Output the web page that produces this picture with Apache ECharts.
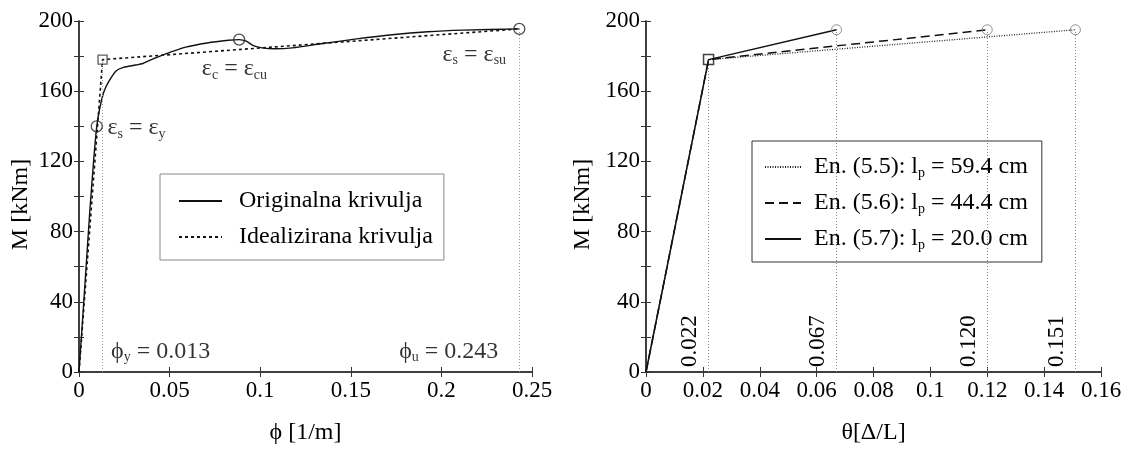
<!DOCTYPE html>
<html>
<head>
<meta charset="utf-8">
<script src="https://cdn.jsdelivr.net/npm/echarts@6/dist/echarts.min.js"></script>
<style>
html,body{margin:0;padding:0;background:#fff;}
#c{width:1130px;height:450px;}
</style>
</head>
<body>
<div id="c"></div>
<script>
// ---------- Left chart data: moment-curvature ----------
const origPhi = [0, 0.0029, 0.0059, 0.0082, 0.0098, 0.0114, 0.0137, 0.0167, 0.0206, 0.0245, 0.0314, 0.0353, 0.0393, 0.0471, 0.0589, 0.0707, 0.0825, 0.0884, 0.0923, 0.0962, 0.1011, 0.108, 0.1178, 0.1335, 0.1532, 0.1728, 0.1925, 0.2121, 0.243];
const origM   = [0, 44, 90.7, 122, 140, 150, 159.6, 166, 171.7, 173.6, 174.9, 175.8, 177.7, 181, 185.1, 187.5, 189, 189.4, 188.5, 186, 184.7, 184.2, 184.7, 187, 189.8, 192.2, 193.9, 194.8, 195.5];
const idealPhi = [0, 0.013, 0.243];
const idealM   = [0, 178, 195.5];
const circlePhi = [0.0098, 0.0884, 0.243];
const circleM   = [140, 189.4, 195.5];
const phiY = 0.013, phiU = 0.243;
const leftXTicks = {min: 0, max: 0.25, interval: 0.05};
const leftYTicks = {min: 0, max: 200, interval: 20, labelEvery: 40};

// ---------- Right chart data: moment-rotation ----------
const thetaY = 0.022, MY = 178, MU = 195;
const thetaU = [0.151, 0.120, 0.067];
const eqNames = ['En. (5.5)', 'En. (5.6)', 'En. (5.7)'];
const lpValues = ['59.4', '44.4', '20.0'];
const thetaLabels = ['0.022', '0.067', '0.120', '0.151'];
const thetaMarks = [0.022, 0.067, 0.120, 0.151];
const thetaMarkTop = [178, 195, 195, 195];
const rightXTicks = {min: 0, max: 0.16, interval: 0.02};

const FONT = 'Liberation Serif';
const TICK = 23;

function zip(a, b) { return a.map((v, i) => [v, b[i]]); }

const seriesNamesRight = eqNames.map((e, i) => e + ': lp = ' + lpValues[i] + ' cm');

const axisLineStyle = {show: true, lineStyle: {color: '#333', width: 1.5}};
function xAxis(gridIndex, t, pos, name) {
  return {
    type: 'value', gridIndex, position: pos, min: t.min, max: t.max, interval: t.interval,
    axisLine: axisLineStyle,
    axisTick: {show: true, inside: true, length: 5, lineStyle: {color: '#333', width: 1}},
    axisLabel: {show: pos === 'bottom', color: '#000', fontFamily: FONT, fontSize: TICK, margin: 7},
    splitLine: {show: false},
    name: pos === 'bottom' ? name : '', nameLocation: 'middle', nameGap: 49,
    nameTextStyle: {color: '#000', fontFamily: FONT, fontSize: 24}
  };
}
function yAxis(gridIndex, pos, name, gap) {
  return {
    type: 'value', gridIndex, position: pos, min: 0, max: 200, interval: leftYTicks.interval,
    axisLine: axisLineStyle,
    axisTick: {show: true, inside: true, length: 5, lineStyle: {color: '#333', width: 1}},
    axisLabel: {show: pos === 'left', color: '#000', fontFamily: FONT, fontSize: TICK, margin: 6,
      formatter: v => (v % leftYTicks.labelEvery === 0 ? String(v) : '')},
    splitLine: {show: false},
    name: pos === 'left' ? name : '', nameLocation: 'middle', nameGap: gap, nameRotate: 90,
    nameTextStyle: {color: '#000', fontFamily: FONT, fontSize: 24, padding: [0, 16, 0, 0]}
  };
}

const richBase = {
  e: {fontFamily: FONT, fontSize: 24, lineHeight: 26, color: '#000'},
  s: {fontFamily: FONT, fontSize: 14, lineHeight: 14, verticalAlign: 'bottom', color: '#000'}
};

const annLeft = [
  {value: [0.0157, 139], pos: 'right', text: '{e|ε}{s|s}{e| = ε}{s|y}'},
  {value: [0.0678, 172.6], pos: 'right', text: '{e|ε}{s|c}{e| = ε}{s|cu}'},
  {value: [0.2357, 181], pos: 'left', text: '{e|ε}{s|s}{e| = ε}{s|su}'},
  {value: [0.0177, 11.7], pos: 'right', text: '{e|ϕ}{s|y}{e| = ' + phiY.toFixed(3) + '}'},
  {value: [0.1767, 11.7], pos: 'right', text: '{e|ϕ}{s|u}{e| = ' + phiU.toFixed(3) + '}'}
];

const hiddenSymbol = {color: 'rgba(0,0,0,0)', borderColor: 'rgba(0,0,0,0)', borderWidth: 0, opacity: 0};

const option = {
  animation: false,
  backgroundColor: '#fff',
  grid: [
    {left: 79, top: 21, width: 453, height: 358},
    {left: 646, top: 21, width: 455, height: 358}
  ],
  xAxis: [
    xAxis(0, leftXTicks, 'bottom', 'ϕ [1/m]'),
    xAxis(0, leftXTicks, 'top', ''),
    xAxis(1, rightXTicks, 'bottom', 'θ[Δ/L]'),
    xAxis(1, rightXTicks, 'top', '')
  ],
  yAxis: [
    yAxis(0, 'left', 'M [kNm]', 46),
    yAxis(0, 'right', '', 0),
    yAxis(1, 'left', 'M [kNm]', 51),
    yAxis(1, 'right', '', 0)
  ],
  legend: [
    {
      left: 160, top: 174, orient: 'vertical',
      data: ['Originalna krivulja', 'Idealizirana krivulja'],
      itemWidth: 43, itemHeight: 14, itemGap: 10,
      padding: [14, 11, 10, 18],
      borderColor: '#888', borderWidth: 1, backgroundColor: '#fff',
      itemStyle: hiddenSymbol,
      textStyle: {fontFamily: FONT, fontSize: 24, lineHeight: 26, color: '#000', padding: [0, 0, 0, 12]}
    },
    {
      left: 752, top: 141, orient: 'vertical',
      data: seriesNamesRight,
      itemWidth: 36, itemHeight: 14, itemGap: 11,
      padding: [14, 14, 10, 12],
      borderColor: '#333', borderWidth: 1, backgroundColor: '#fff',
      itemStyle: hiddenSymbol,
      formatter: name => {
        const i = seriesNamesRight.indexOf(name);
        return '{e|' + eqNames[i] + ': l}{s|p}{e| = ' + lpValues[i] + ' cm}';
      },
      textStyle: {fontFamily: FONT, fontSize: 24, color: '#000', padding: [0, 0, 0, 8], rich: richBase}
    }
  ],
  series: [
    // ----- left chart -----
    {
      name: 'Idealizirana krivulja', type: 'line', xAxisIndex: 0, yAxisIndex: 0,
      data: zip(idealPhi, idealM), symbol: 'none',
      lineStyle: {color: '#111', width: 1.6, type: [3, 3]}, itemStyle: {color: '#111'},
      markLine: {
        silent: true, symbol: ['none', 'none'], label: {show: false},
        lineStyle: {color: '#999', width: 1, type: [1, 2]},
        data: [
          [{coord: [phiY, 0]}, {coord: [phiY, idealM[1]]}],
          [{coord: [phiU, 0]}, {coord: [phiU, idealM[2]]}]
        ]
      },
      z: 3
    },
    {
      name: 'Originalna krivulja', type: 'line', xAxisIndex: 0, yAxisIndex: 0,
      data: zip(origPhi, origM), symbol: 'none', smooth: 0.25,
      lineStyle: {color: '#111', width: 1.4, type: 'solid'}, itemStyle: {color: '#111'}, z: 4
    },
    {
      type: 'scatter', xAxisIndex: 0, yAxisIndex: 0, data: zip(circlePhi, circleM),
      symbol: 'circle', symbolSize: 11,
      itemStyle: {color: 'rgba(0,0,0,0)', borderColor: '#222', borderWidth: 1.3}, z: 5
    },
    {
      type: 'scatter', xAxisIndex: 0, yAxisIndex: 0, data: [[idealPhi[1], idealM[1]]],
      symbol: 'rect', symbolSize: 9,
      itemStyle: {color: 'rgba(0,0,0,0)', borderColor: '#333', borderWidth: 1.3}, z: 5
    },
    {
      type: 'scatter', xAxisIndex: 0, yAxisIndex: 0, symbolSize: 0, silent: true,
      data: annLeft.map(a => ({
        value: a.value,
        label: {show: true, position: a.pos, distance: 0, formatter: a.text, rich: richBase}
      })),
      z: 6
    },
    // ----- right chart -----
    ...thetaU.map((tu, i) => ({
      name: seriesNamesRight[i], type: 'line', xAxisIndex: 2, yAxisIndex: 2,
      data: [[0, 0], [thetaY, MY], [tu, MU]], symbol: 'none',
      lineStyle: {color: i === 0 ? '#222' : '#111', width: i === 0 ? 1.3 : 1.5,
        type: i === 0 ? [1, 1.5] : (i === 1 ? [9, 5] : 'solid')},
      itemStyle: {color: '#111'},
      z: 3 + i
    })),
    {
      type: 'line', xAxisIndex: 2, yAxisIndex: 2, data: [], symbol: 'none',
      markLine: {
        silent: true, symbol: ['none', 'none'],
        lineStyle: {color: '#888', width: 1, type: [1, 2]},
        label: {show: true, position: 'insideStartTop', distance: [5, 7],
          fontFamily: FONT, fontSize: TICK, color: '#000'},
        data: thetaMarks.map((t, i) => [
          {coord: [t, 0], label: {formatter: thetaLabels[i]}},
          {coord: [t, thetaMarkTop[i]]}
        ])
      }
    },
    {
      type: 'scatter', xAxisIndex: 2, yAxisIndex: 2,
      data: thetaU.map(t => [t, MU]), symbol: 'circle', symbolSize: 10,
      itemStyle: {color: 'rgba(0,0,0,0)', borderColor: '#777', borderWidth: 1}, z: 7
    },
    {
      type: 'scatter', xAxisIndex: 2, yAxisIndex: 2,
      data: [[thetaY, MY]], symbol: 'rect', symbolSize: 10,
      itemStyle: {color: 'rgba(0,0,0,0)', borderColor: '#111', borderWidth: 1.5}, z: 7
    }
  ]
};

const chart = echarts.init(document.getElementById('c'), null, {renderer: 'canvas'});
chart.setOption(option);
</script>
</body>
</html>
